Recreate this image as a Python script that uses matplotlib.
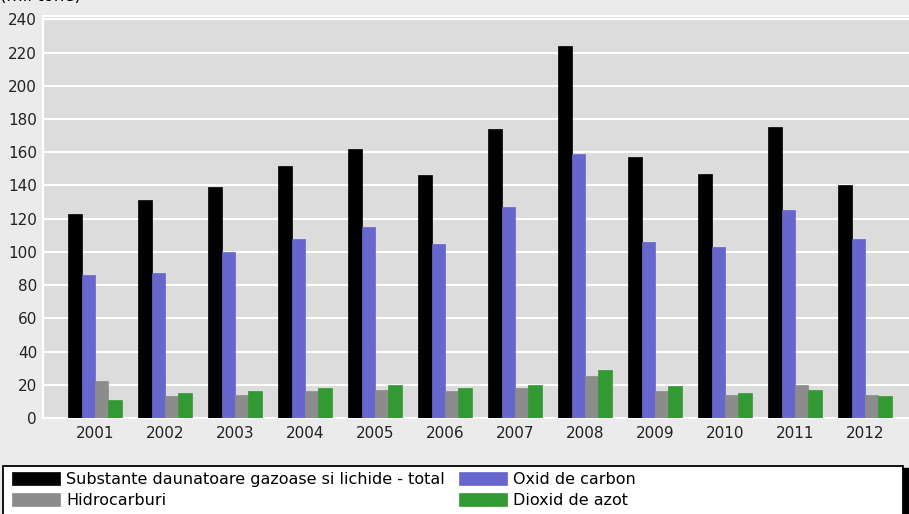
import matplotlib
matplotlib.use("Agg")
import matplotlib.pyplot as plt
import numpy as np
from matplotlib.patches import Rectangle

years = ['2001', '2002', '2003', '2004', '2005', '2006',
         '2007', '2008', '2009', '2010', '2011', '2012']
total = [123, 131, 139, 152, 162, 146, 174, 224, 157, 147, 175, 140]
oxid_carbon = [86, 87, 100, 108, 115, 105, 127, 159, 106, 103, 125, 108]
hidrocarburi = [22, 13, 14, 16, 17, 16, 18, 25, 16, 14, 20, 14]
dioxid_azot = [11, 15, 16, 18, 20, 18, 20, 29, 19, 15, 17, 13]

labels = ['Substante daunatoare gazoase si lichide - total', 'Oxid de carbon',
          'Hidrocarburi', 'Dioxid de azot']
colors = ['#000000', '#6666cc', '#8c8c8c', '#339933']

plt.rcParams['font.family'] = ['DejaVu Sans']

W, H = 909, 514
fig = plt.figure(figsize=(W / 100, H / 100), dpi=100)
fig.patch.set_facecolor('#ebebeb')

ax = fig.add_axes([43 / W, (H - 418) / H, (W - 43) / W, (418 - 16) / H])
ax.set_facecolor('#dcdcdc')

x = np.arange(len(years))
bw = 0.19
series = [total, oxid_carbon, hidrocarburi, dioxid_azot]
bars = []
for i, (vals, c) in enumerate(zip(series, colors)):
    b = ax.bar(x + (i - 1.5) * bw, vals, bw, color=c, zorder=3,
               edgecolor=c, linewidth=0.5)
    bars.append(b)

ax.set_xlim(-0.743, 11.63)
ax.set_ylim(0, 242)
ax.set_yticks(range(0, 241, 20))
ax.set_xticks(x)
ax.set_xticklabels(years)
ax.grid(axis='y', color='white', linewidth=1.5, zorder=1)
ax.tick_params(axis='both', length=0, labelsize=11, colors='#222222')
ax.tick_params(axis='x', pad=5.5)
ax.tick_params(axis='y', pad=4.3)
ax.spines['right'].set_visible(False)
for s in ['left', 'bottom', 'top']:
    ax.spines[s].set_color('white')
    ax.spines[s].set_linewidth(1.5)

# unit label, cut by the top edge as in the original
fig.text(0, 1.0 - 1 / H, '(mii tone)', fontsize=12, ha='left', va='baseline')

# legend box with black shadow on the right
fig.patches.append(Rectangle((903 / W, 0), 6 / W, (H - 468) / H,
                             transform=fig.transFigure, color='black', zorder=0))
fig.patches.append(Rectangle((3 / W, -5 / H), 900 / W, (H - 466 + 5) / H,
                             transform=fig.transFigure, facecolor='white',
                             edgecolor='black', linewidth=1.3, zorder=1))

fs = 11.5
fs_px = fs * 100 / 72
common = dict(loc='upper left', fontsize=fs, frameon=False,
              handlelength=48 / fs_px, handleheight=14 / fs_px,
              handletextpad=6 / fs_px, borderpad=0, borderaxespad=0,
              labelspacing=0.4)
leg1 = fig.legend([bars[0], bars[2]], [labels[0], labels[2]],
                  bbox_to_anchor=(12 / W, 1 - 472 / H), **common)
leg2 = fig.legend([bars[1], bars[3]], [labels[1], labels[3]],
                  bbox_to_anchor=(459 / W, 1 - 472 / H), **common)
leg1.set_zorder(5)
leg2.set_zorder(5)

fig.savefig('out.png', dpi=100, facecolor=fig.get_facecolor())
